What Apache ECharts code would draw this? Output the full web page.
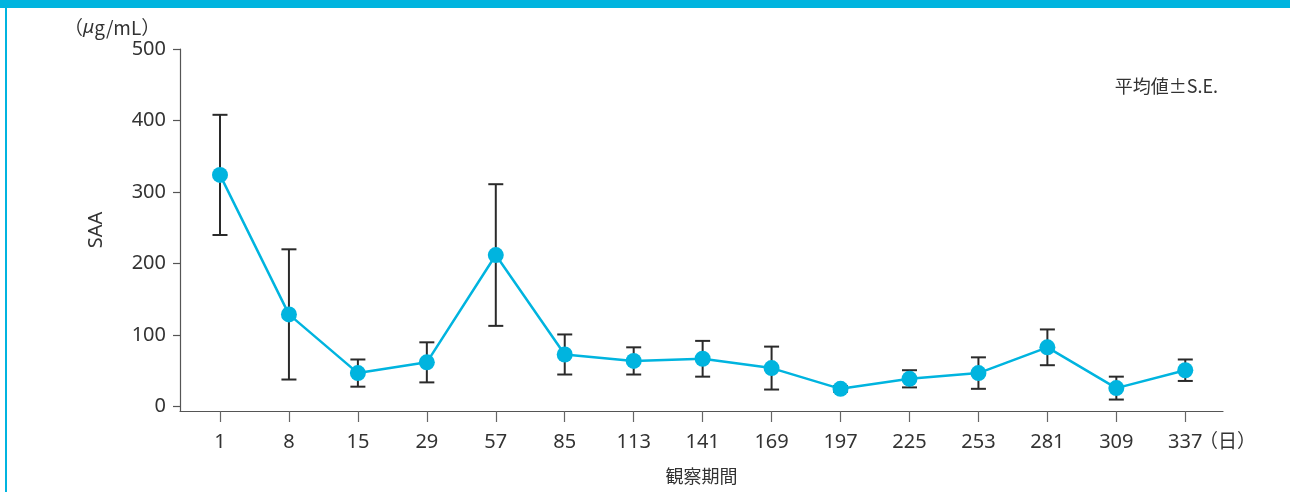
<!DOCTYPE html>
<html>
<head>
<meta charset="utf-8">
<script src="https://cdn.jsdelivr.net/npm/echarts@6/dist/echarts.min.js"></script>
<style>
  html, body { margin: 0; padding: 0; background: #fff; }
  #chart { width: 1290px; height: 492px; }
</style>
</head>
<body>
<div id="chart"></div>
<script>
// 観察期間（日）
const days = ["1", "8", "15", "29", "57", "85", "113", "141", "169", "197", "225", "253", "281", "309", "337"];
// SAA 平均値 (μg/mL)
const means = [324, 129, 47, 62, 212, 73, 64, 67, 54, 25, 39, 47, 83, 26, 51];
// S.E.
const se = [84, 91, 19, 28, 99, 28, 19, 25, 30, 4, 12, 22, 25, 16, 15];
const yTicks = [0, 100, 200, 300, 400, 500];

const cyan = "#00b4df";
const font = "'Noto Sans', 'Noto Sans CJK JP', sans-serif";
const jpFont = "'Noto Sans CJK JP', 'Noto Sans', sans-serif";

let idx = days.map((d, i) => i);
let lineData = means.map((m, i) => [i, m]);
let errData = means.map((m, i) => [i, m - se[i], m + se[i]]);

let myChart = echarts.init(document.getElementById("chart"));

let option = {
  animation: false,
  grid: { left: 180, right: 67, top: 49, bottom: 81 },
  xAxis: {
    type: "value",
    min: -0.58,
    max: 14.547,
    name: "観察期間",
    nameLocation: "middle",
    nameGap: 56,
    nameTextStyle: { fontFamily: jpFont, fontSize: 18, color: "#333" },
    axisLine: { show: true, onZero: false, lineStyle: { color: "#555", width: 1.2 } },
    axisTick: { show: true, length: 11, customValues: idx, lineStyle: { color: "#666", width: 1.2 } },
    axisLabel: {
      customValues: idx,
      margin: 21,
      fontFamily: font,
      fontSize: 20,
      color: "#333",
      formatter: v => days[Math.round(v)]
    },
    splitLine: { show: false }
  },
  yAxis: {
    type: "value",
    min: -6,
    max: 500,
    name: "SAA",
    nameLocation: "middle",
    nameGap: 74,
    nameTextStyle: { fontFamily: font, fontSize: 20, color: "#333" },
    axisLine: { show: true, onZero: false, lineStyle: { color: "#555", width: 1.2 } },
    axisTick: { show: true, length: 7, customValues: yTicks, lineStyle: { color: "#555", width: 1.2 } },
    axisLabel: {
      customValues: yTicks,
      margin: 14,
      fontFamily: font,
      fontSize: 20,
      color: "#333"
    },
    splitLine: { show: false }
  },
  graphic: [
    { type: "rect", left: 0, top: 0, shape: { width: 1290, height: 8 }, style: { fill: cyan } },
    { type: "rect", left: 5, top: 0, shape: { width: 2, height: 492 }, style: { fill: cyan } },
    {
      type: "text", left: 64, top: 18,
      style: {
        text: "（{i|μ}g/mL）",
        fontFamily: jpFont, fontSize: 19, fill: "#333",
        rich: { i: { fontStyle: "italic", fontFamily: font, fontSize: 19, fill: "#333" } }
      }
    },
    {
      type: "text", right: 72, top: 77,
      style: { text: "平均値±S.E.", fontFamily: jpFont, fontSize: 18, fill: "#333" }
    },
    {
      type: "text", left: 1199, top: 431,
      style: { text: "（日）", fontFamily: jpFont, fontSize: 19, fill: "#333" }
    }
  ],
  series: [
    {
      type: "custom",
      z: 1,
      data: errData,
      renderItem: function (params, api) {
        let x = api.value(0);
        let lo = api.coord([x, api.value(1)]);
        let hi = api.coord([x, api.value(2)]);
        let w = 7.5;
        let style = { stroke: "#2a2a2a", lineWidth: 2 };
        return {
          type: "group",
          children: [
            { type: "line", shape: { x1: lo[0], y1: lo[1], x2: hi[0], y2: hi[1] }, style: style },
            { type: "line", shape: { x1: hi[0] - w, y1: hi[1], x2: hi[0] + w, y2: hi[1] }, style: style },
            { type: "line", shape: { x1: lo[0] - w, y1: lo[1], x2: lo[0] + w, y2: lo[1] }, style: style }
          ]
        };
      }
    },
    {
      type: "line",
      z: 3,
      data: lineData,
      symbol: "circle",
      symbolSize: 16,
      itemStyle: { color: cyan },
      lineStyle: { color: cyan, width: 2.5 }
    }
  ]
};

myChart.setOption(option);
</script>
</body>
</html>
